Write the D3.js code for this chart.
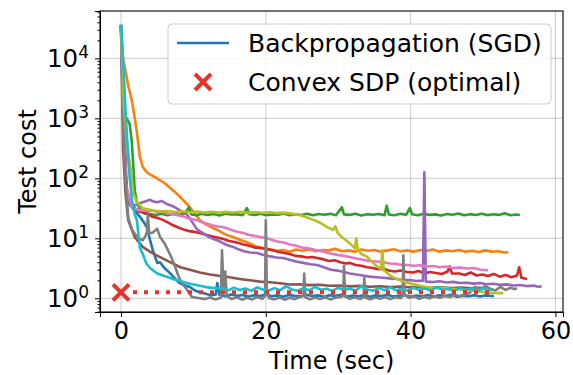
<!DOCTYPE html>
<html>
<head>
<meta charset="utf-8">
<script src="https://cdn.jsdelivr.net/npm/d3@7"></script>
<style>
  body { margin: 0; background: #fff; }
  svg { display: block; font-family: "DejaVu Sans", sans-serif; }
</style>
</head>
<body>
<svg id="chart" width="573" height="375"></svg>
<script>
// test cost vs time, one run per colour: [time (sec), cost]
const runBlue = [[0,36000],[0.3,2000],[0.6,200],[0.83,44],[1.3,35],[1.9,29],[2.6,23],[3.1,19],[3.6,15],[4.0,9.5],[4.4,6.3],[5.0,3.9],[5.4,4.0],[5.9,3.3],[6.4,2.9],[6.8,2.6],[7.2,2.3],[7.7,2.0],[8.1,1.8],[8.8,1.65],[9.5,1.55],[10.2,1.35],[10.9,1.26],[11.6,1.2],[12.4,1.12],[13.1,1.16],[13.3,1.8],[13.6,1.15],[14.4,1.08],[15.2,1.16],[16.0,1.1],[16.8,1.14],[17.6,1.07],[18.4,1.13],[19.2,1.09],[20.0,1.16],[20.8,1.08],[21.6,1.12],[22.4,1.06],[23.2,1.14],[24.0,1.1],[24.8,1.07],[25.6,1.15],[26.4,1.09],[27.2,1.12],[28.0,1.06],[28.8,1.13],[29.6,1.1],[30.4,1.15],[31.2,1.07],[32.0,1.11],[32.8,1.08],[33.6,1.14],[34.4,1.06],[35.2,1.12],[36.0,1.09],[36.8,1.15],[37.6,1.07],[38.4,1.1],[39.2,1.13],[40.0,1.06],[40.8,1.11],[41.6,1.08],[42.4,1.14],[43.2,1.07],[44.0,1.12],[44.8,1.09],[45.6,1.15],[46.4,1.06],[47.2,1.11],[48.0,1.08],[48.8,1.13],[49.6,1.07],[50.4,1.12],[51.2,1.09],[51.5,1.1]];
const runOrange = [[0,36000],[0.28,10000],[0.55,7000],[1.0,3500],[1.5,2000],[1.9,1000],[2.2,575],[2.6,230],[3.0,155],[3.6,126],[4.0,117],[4.7,105],[5.4,93],[6.1,82],[6.8,69],[7.4,60],[8.1,50],[8.8,41],[9.5,33],[10.2,26],[10.9,20],[11.6,17.5],[12.4,15.5],[13.3,13.8],[14.2,12],[15.0,11],[15.5,10.5],[16.4,9.5],[17.3,8.7],[18.1,7.9],[18.8,7.2],[19.6,6.9],[20.5,6.6],[21.5,6.2],[22.4,6.4],[23.3,6.0],[24.2,6.5],[25.1,6.2],[26.0,6.6],[26.9,6.1],[27.8,6.4],[28.7,6.3],[29.6,6.7],[30.5,6.1],[31.4,6.3],[32.3,6.0],[33.2,6.5],[34.1,6.2],[35.0,6.4],[35.9,6.0],[36.8,6.3],[37.7,6.6],[38.6,6.1],[39.5,6.3],[40.4,6.0],[41.3,6.4],[42.2,6.2],[43.1,6.5],[44.0,6.0],[44.9,6.3],[45.8,6.1],[46.7,6.4],[47.6,6.0],[48.5,6.2],[49.4,5.9],[50.3,6.3],[51.2,6.0],[52.1,6.1],[53.0,5.8],[53.5,5.9]];
const runGreen = [[0,36000],[0.5,1000],[0.8,1000],[1.2,800],[1.5,400],[1.7,160],[1.9,63],[2.2,40],[2.6,31],[3.2,26],[4.0,25.5],[4.8,24.5],[5.6,25.8],[6.4,24.2],[7.2,25.5],[8.0,24.8],[8.8,25.9],[9.4,33],[9.7,25],[10.4,24.3],[11.2,25.6],[12.0,24.6],[12.8,25.4],[13.6,24.1],[14.4,25.7],[15.2,24.9],[16.0,25.3],[16.8,24.4],[17.4,32],[17.7,25.2],[18.5,24.6],[19.3,25.8],[20.1,24.2],[20.9,25.1],[21.7,24.7],[22.5,25.9],[23.3,24.3],[24.1,25.2],[24.9,24.5],[25.7,25.7],[26.5,24.2],[27.3,25.4],[28.1,24.8],[28.9,25.6],[29.7,24.3],[30.5,33],[30.8,25.1],[31.6,24.6],[32.4,25.8],[33.2,24.1],[34.0,25.3],[34.8,24.7],[35.6,25.5],[36.4,24.4],[36.7,35],[37.0,25.0],[37.8,24.2],[38.6,25.6],[39.4,24.8],[39.9,32],[40.2,25.2],[41.0,24.3],[41.8,25.7],[42.6,24.6],[43.4,25.1],[44.2,24.0],[45.0,25.4],[45.8,24.7],[46.6,25.9],[47.4,24.2],[48.2,25.3],[49.0,24.5],[49.8,25.8],[50.6,24.4],[51.4,25.2],[52.2,24.6],[53.0,26.2],[53.8,24.3],[54.6,25.0],[55.1,24.5]];
const runRed = [[0,36000],[0.3,1000],[0.8,63],[1.5,35],[2.5,28],[3.6,26],[4.3,23],[5.0,22],[5.7,20.5],[6.4,18.6],[7.2,16.5],[8.0,15],[8.6,14.1],[9.4,13.2],[10.2,12.8],[10.9,12.3],[11.7,11.5],[12.5,10.8],[13.3,10.3],[14.1,9.8],[14.9,9.0],[15.7,8.7],[16.5,8.2],[16.9,7.9],[17.7,7.5],[18.5,7.0],[19.3,6.9],[20.2,6.6],[21.0,6.3],[21.8,5.9],[22.6,5.7],[23.3,5.5],[24.1,5.1],[24.9,5.0],[25.7,4.8],[26.4,4.9],[27.1,4.7],[27.9,4.5],[28.7,4.2],[29.5,4.3],[30.3,4.0],[31.1,3.8],[31.6,3.9],[32.4,3.6],[33.2,3.5],[34.0,3.3],[34.8,3.2],[35.5,3.05],[36.2,3.1],[37.0,2.9],[37.8,2.8],[38.6,2.9],[39.5,2.75],[40.3,2.7],[41.1,2.85],[41.9,2.6],[42.7,2.75],[43.5,2.65],[44.3,2.55],[45.1,2.8],[45.4,3.4],[45.7,2.6],[46.7,2.6],[47.5,2.45],[48.3,2.7],[49.1,2.4],[49.9,2.5],[50.7,2.35],[51.5,2.55],[52.3,2.3],[53.1,2.45],[53.9,2.25],[54.7,2.4],[55.0,3.3],[55.3,2.2],[56.1,2.1]];
const runPurple = [[0,36000],[0.3,1600],[0.7,71],[1.2,40],[1.9,35.5],[2.5,38],[3.0,40],[3.5,42],[4.0,44],[4.5,41],[5.0,40],[5.6,42],[6.4,37],[7.0,35],[7.7,31.6],[8.4,28],[9.1,25],[9.8,19],[10.5,14.1],[11.2,12.5],[12.0,10.8],[12.7,9.8],[13.3,9.3],[14.1,8.3],[14.8,7.6],[15.5,7.2],[16.3,6.5],[17.0,6.1],[17.8,5.8],[18.8,5.7],[19.7,5.3],[20.6,5.0],[21.5,4.8],[22.4,4.7],[23.3,4.4],[24.2,4.1],[25.2,3.9],[26.1,3.7],[27.1,3.6],[28.0,3.3],[29.0,3.0],[29.9,2.9],[30.8,2.75],[31.6,2.6],[32.5,2.5],[33.4,2.4],[34.3,2.3],[35.3,2.25],[36.2,2.2],[37.1,2.15],[38.0,2.1],[39.0,2.0],[39.9,2.02],[40.8,1.95],[41.7,1.97],[41.9,126],[42.1,1.9],[43.1,1.87],[44.0,1.92],[45.0,1.84],[45.9,1.88],[46.8,1.8],[47.8,1.82],[48.7,1.76],[49.6,1.8],[50.5,1.72],[51.4,1.75],[52.3,1.68],[53.2,1.71],[54.2,1.64],[55.1,1.67],[56.0,1.6],[57.0,1.63],[57.6,1.56],[58.1,1.58]];
const runBrown = [[0,36000],[0.3,300],[0.6,60],[1.0,20],[1.9,10.5],[3.0,7.2],[4.0,6.0],[4.8,5.3],[5.8,4.6],[7.0,3.9],[8.2,3.3],[9.5,3.0],[10.9,2.7],[12.3,2.5],[13.7,2.35],[15.0,2.25],[16.4,2.1],[17.8,2.0],[19.2,1.9],[20.6,1.85],[22.0,1.78],[23.3,1.7],[24.6,1.72],[26.0,1.66],[27.4,1.68],[28.8,1.62],[30.2,1.64],[31.6,1.58],[33.0,1.61],[34.4,1.56],[35.8,1.59],[37.2,1.54],[38.6,1.57],[40.0,1.52],[41.4,1.55],[42.8,1.5],[44.2,1.53],[45.6,1.48],[47.0,1.51],[48.4,1.47],[49.8,1.5]];
const runPink = [[0,36000],[0.3,1000],[0.7,79],[1.5,32],[2.6,29.5],[3.5,28.5],[4.3,29],[5.0,27.5],[5.8,28],[6.5,26],[7.2,25.5],[7.7,24.5],[8.4,23.5],[9.1,22],[9.8,21],[10.5,20],[11.2,18.5],[11.9,17.5],[12.6,16.5],[13.4,15.8],[14.1,15.5],[14.8,14.5],[15.5,13.5],[16.2,12.8],[16.9,12.3],[17.6,11.5],[18.4,11.0],[19.2,10.5],[20.2,10],[21.0,9.3],[21.8,8.8],[22.5,8.5],[23.3,7.9],[24.1,7.6],[25.0,7.0],[25.9,6.8],[26.6,6.5],[27.1,6.3],[28.0,6.0],[28.9,5.6],[29.9,5.3],[30.8,5.1],[31.6,4.9],[32.5,4.6],[33.4,4.4],[34.3,4.2],[35.3,4.1],[36.2,4.0],[37.1,3.8],[38.0,3.75],[38.9,3.6],[39.5,3.6],[40.4,3.5],[41.3,3.55],[42.2,3.4],[43.1,3.45],[44.0,3.3],[44.9,3.4],[45.8,3.2],[46.8,3.25],[47.8,3.15],[48.7,3.2],[49.7,3.0],[50.7,2.95]];
const runGray = [[0,36000],[0.3,1000],[0.6,100],[1.0,22],[1.5,14],[2.0,11.5],[2.5,10],[3.0,9.3],[3.4,11],[3.6,13],[3.7,25],[3.9,12],[4.4,12.5],[5.0,14.5],[5.4,10.5],[6.0,8.3],[6.5,6.3],[7.0,4.7],[7.5,3.3],[8.0,2.25],[8.4,1.8],[9.1,1.4],[9.8,1.05],[10.9,1.0],[11.6,0.97],[12.3,1.03],[13.0,0.96],[13.8,1.02],[13.95,6.3],[14.15,1.5],[14.4,2.8],[14.6,1.1],[15.3,0.97],[16.0,1.04],[16.7,0.95],[17.4,1.02],[18.1,0.96],[18.8,1.05],[19.5,0.98],[19.9,1.1],[20.0,20],[20.15,1.2],[20.5,1.0],[21.2,0.96],[21.9,1.03],[22.6,0.95],[23.3,1.02],[24.0,0.97],[24.7,1.05],[25.2,1.1],[25.3,2.6],[25.45,1.05],[26.1,0.96],[26.8,1.03],[27.5,0.97],[28.2,1.04],[28.9,0.96],[29.6,1.02],[30.3,1.05],[30.7,1.1],[30.8,3.5],[30.95,1.08],[31.6,0.98],[32.3,1.04],[33.0,0.97],[33.5,1.05],[33.6,2.2],[33.75,1.03],[34.4,0.96],[35.1,1.03],[35.8,0.98],[36.5,1.05],[37.2,0.97],[37.9,1.04],[38.6,1.0],[38.9,1.1],[39.0,5.2],[39.15,1.15],[39.8,1.02],[40.5,1.08],[41.2,0.98],[41.9,1.06],[42.6,1.0],[43.3,1.08],[44.0,1.02],[44.7,1.1],[45.4,1.05],[46.1,1.13],[46.8,1.08],[47.5,1.15],[48.2,1.25],[48.9,1.55],[49.6,1.4],[50.3,1.6],[51.0,1.45],[51.7,1.35],[52.4,1.55],[53.1,1.38],[53.8,1.5],[54.4,1.42],[54.7,1.48]];
const runOlive = [[0,36000],[0.4,1600],[0.9,316],[1.4,126],[1.7,56],[2.2,40],[3.0,31.6],[4.5,29],[5.5,28],[6.5,28.5],[7.5,27.5],[8.5,28.2],[9.5,27.3],[10.5,28],[11.5,27],[12.5,27.8],[13.5,26.8],[14.5,27.6],[15.5,26.9],[16.5,27.7],[17.5,26.6],[18.5,27.4],[19.5,26.7],[20.5,27.2],[21.5,26.3],[22.5,26.8],[23.5,25.8],[24.7,24.5],[25.6,22.5],[26.5,20.5],[27.5,18.2],[28.4,15.5],[29.3,13.8],[29.6,16],[29.9,12.5],[30.5,10.5],[31.6,8.3],[32.3,6.8],[32.5,10],[32.7,6.5],[33.2,5.5],[34.0,4.9],[35.1,3.6],[35.9,3.1],[36.1,6.3],[36.3,2.95],[37.4,2.3],[38.5,2.0],[39.7,1.8],[40.9,1.66],[42.0,1.55],[43.1,1.48],[44.2,1.5],[45.4,1.45],[46.6,1.42],[47.8,1.38],[49.0,1.32],[50.0,1.28],[50.6,1.25],[51.7,1.23],[52.8,1.22]];
const runCyan = [[0,37000],[0.28,9300],[0.7,930],[1.1,138],[1.5,44],[1.9,25],[2.2,20],[2.6,7],[3.0,5.5],[3.5,3.8],[4.0,3.2],[5.0,2.6],[6.0,2.35],[7.2,2.1],[8.4,1.9],[9.5,1.75],[10.9,1.62],[12.0,1.52],[13.0,1.48],[14.0,1.45],[14.8,1.36],[15.6,1.5],[16.4,1.38],[17.2,1.46],[18.0,1.33],[18.8,1.52],[19.6,1.4],[20.4,1.35],[21.2,1.48],[22.0,1.37],[22.8,1.6],[23.6,1.4],[24.4,1.34],[25.2,1.47],[26.0,1.36],[26.8,1.55],[27.6,1.39],[28.4,1.44],[29.2,1.33],[30.0,1.5],[30.8,1.38],[31.6,1.45],[32.4,1.35],[33.2,1.58],[34.0,1.4],[34.8,1.34],[35.6,1.48],[36.4,1.37],[37.2,1.52],[38.0,1.36],[38.8,1.44],[39.6,1.33],[40.4,1.5],[41.2,1.38],[42.0,1.46],[42.8,1.34],[43.6,1.55],[44.4,1.39],[45.2,1.43],[46.0,1.32],[46.8,1.49],[47.6,1.37],[48.4,1.45],[49.2,1.33],[50.0,1.47],[50.8,1.36],[51.3,1.4]];

const runs = [runBlue, runOrange, runGreen, runRed, runPurple, runBrown, runPink, runGray, runOlive, runCyan];
const runColors = ["#1f77b4", "#ff7f0e", "#2ca02c", "#d62728", "#9467bd", "#8c564b", "#e377c2", "#7f7f7f", "#bcbd22", "#17becf"];

// convex SDP optimum and the span of its reference line
const sdpCost = 1.26;
const sdpSpan = [0, 51.2];

const xTicks = [0, 20, 40, 60];
const yTicks = [1, 10, 100, 1000, 10000];
const legendLabels = ["Backpropagation (SGD)", "Convex SDP (optimal)"];

const svg = d3.select("#chart");
const plotL = 100, plotR = 563, plotT = 11, plotB = 312;
const sdpRed = "#e8322a";

const x = d3.scaleLinear().domain([-2.9, 61.05]).range([plotL, plotR]);
const y = d3.scaleLog().domain([0.5916, 61660]).range([plotB, plotT]);

// grid
const grid = svg.append("g").attr("stroke", "#b0b0b0").attr("stroke-opacity", 0.55).attr("stroke-width", 1.2);
grid.selectAll(".gx").data(xTicks).join("line").attr("class", "gx")
  .attr("x1", d => x(d)).attr("x2", d => x(d)).attr("y1", plotT).attr("y2", plotB);
grid.selectAll(".gy").data(yTicks).join("line").attr("class", "gy")
  .attr("x1", plotL).attr("x2", plotR).attr("y1", d => y(d)).attr("y2", d => y(d));

svg.append("clipPath").attr("id", "plot")
  .append("rect").attr("x", plotL).attr("y", plotT).attr("width", plotR - plotL).attr("height", plotB - plotT);

const line = d3.line().x(d => x(d[0])).y(d => y(d[1]));
const lines = svg.append("g").attr("clip-path", "url(#plot)");
lines.selectAll("path.run").data(runs).join("path")
  .attr("class", "run")
  .attr("d", line)
  .attr("fill", "none")
  .attr("stroke", (d, i) => runColors[i])
  .attr("stroke-width", 2.6)
  .attr("stroke-linejoin", "round");

// SDP optimum: dotted line + cross
lines.append("line")
  .attr("x1", x(sdpSpan[0]) + 12).attr("x2", x(sdpSpan[1]))
  .attr("y1", y(sdpCost)).attr("y2", y(sdpCost))
  .attr("stroke", sdpRed).attr("stroke-width", 4).attr("stroke-dasharray", "4,7");

function cross(g, cx, cy, r) {
  g.append("path")
    .attr("d", `M${cx - r},${cy - r}L${cx + r},${cy + r}M${cx - r},${cy + r}L${cx + r},${cy - r}`)
    .attr("stroke", sdpRed).attr("stroke-width", 4).attr("fill", "none");
}
cross(svg, x(0), y(sdpCost), 8);

// axes
const xAxis = svg.append("g").attr("transform", `translate(0,${plotB})`)
  .call(d3.axisBottom(x).tickValues(xTicks).tickSize(5).tickPadding(5).tickFormat(d3.format("d")));
xAxis.selectAll("text").attr("font-size", 24).attr("font-family", "DejaVu Sans").attr("fill", "#000");

const minor = [];
[0.1, 1, 10, 100, 1000, 10000].forEach(b => { for (let k = 2; k <= 9; k++) minor.push(b * k); });
svg.append("g").attr("transform", `translate(${plotL},0)`)
  .call(d3.axisLeft(y).tickValues(minor.filter(v => v > 0.5916 && v < 61660)).tickSize(2.5).tickFormat(""))
  .call(g => g.select(".domain").remove());

const yAxis = svg.append("g").attr("transform", `translate(${plotL},0)`)
  .call(d3.axisLeft(y).tickValues(yTicks).tickSize(5).tickFormat(""));
yAxis.selectAll(".tick").each(function(d) {
  const t = d3.select(this).append("text")
    .attr("x", -11).attr("y", 8.5).attr("text-anchor", "end")
    .attr("font-size", 24.5).attr("font-family", "DejaVu Sans").attr("fill", "#000");
  t.append("tspan").text("10");
  t.append("tspan").attr("font-size", 17).attr("dy", -9.5).text(Math.round(Math.log10(d)));
});

// frame
svg.append("rect").attr("x", plotL).attr("y", plotT).attr("width", plotR - plotL).attr("height", plotB - plotT)
  .attr("fill", "none").attr("stroke", "#000").attr("stroke-width", 1.1);

// labels
svg.append("text").attr("x", (plotL + plotR) / 2).attr("y", 369).attr("text-anchor", "middle")
  .attr("font-size", 24).text("Time (sec)");
svg.append("text").attr("transform", `translate(36,${(plotT + plotB) / 2}) rotate(-90)`)
  .attr("text-anchor", "middle").attr("font-size", 24).text("Test cost");

// legend
const lg = svg.append("g");
lg.append("rect").attr("x", 168).attr("y", 24).attr("width", 383).attr("height", 80).attr("rx", 4)
  .attr("fill", "#fff").attr("fill-opacity", 0.8).attr("stroke", "#cccccc").attr("stroke-width", 1);
lg.append("line").attr("x1", 177).attr("x2", 229).attr("y1", 43).attr("y2", 43)
  .attr("stroke", runColors[0]).attr("stroke-width", 2.5);
cross(lg, 203, 82, 8);
lg.selectAll("text").data(legendLabels).join("text")
  .attr("x", 248).attr("y", (d, i) => 52 + i * 39)
  .attr("font-size", 25).text(d => d);
</script>
</body>
</html>
